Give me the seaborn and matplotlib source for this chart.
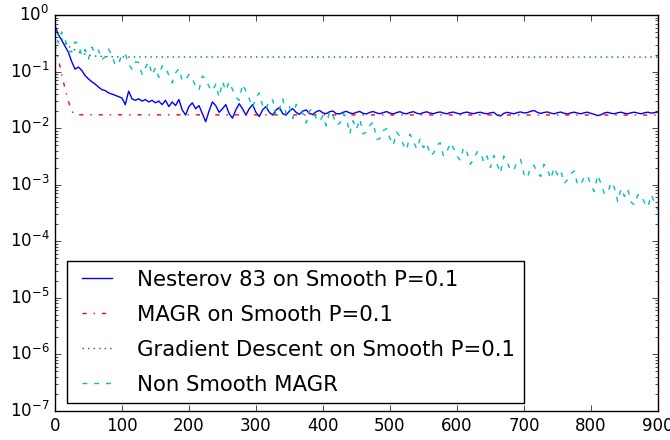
import matplotlib
matplotlib.use("Agg")
import matplotlib.pyplot as plt
import seaborn as sns

plt.style.use("classic")
plt.rcParams["font.family"] = ["DejaVu Sans"]

x5 = list(range(0, 901, 5))

nesterov = [
    0.65, 0.45, 0.36, 0.28, 0.22, 0.15, 0.11, 0.12, 0.105, 0.085,
    0.074, 0.066, 0.06, 0.053, 0.048, 0.046, 0.042, 0.040, 0.038, 0.036,
    0.034, 0.026, 0.045, 0.033, 0.031, 0.033, 0.030, 0.032, 0.029, 0.031,
    0.028, 0.030, 0.026, 0.031, 0.024, 0.029, 0.025, 0.032, 0.021, 0.017,
    0.024, 0.028, 0.022, 0.025, 0.018, 0.013, 0.020, 0.029, 0.025, 0.019,
    0.022, 0.026, 0.018, 0.015, 0.021, 0.027, 0.022, 0.017, 0.022, 0.026,
    0.019, 0.016, 0.021, 0.024, 0.019, 0.017, 0.021, 0.023, 0.018, 0.017,
    0.020, 0.022, 0.019, 0.0175, 0.020, 0.021, 0.018, 0.0175, 0.0195, 0.0205,
    0.0185, 0.018, 0.0195, 0.020, 0.018, 0.0178, 0.019, 0.0198, 0.0185, 0.018,
    0.019, 0.0197, 0.0182, 0.0178, 0.019, 0.0196, 0.0185, 0.018, 0.0188, 0.0196,
    0.0184, 0.0178, 0.0188, 0.0195, 0.0183, 0.0179, 0.0189, 0.0195, 0.0183, 0.0178,
    0.0188, 0.0194, 0.0184, 0.018, 0.0188, 0.0193, 0.0184, 0.0179, 0.0188, 0.0192,
    0.0183, 0.0178, 0.0187, 0.0192, 0.0184, 0.018, 0.0187, 0.0191, 0.0183, 0.0179,
    0.0186, 0.019, 0.017, 0.0164, 0.0182, 0.019, 0.0184, 0.0179, 0.0188, 0.0193,
    0.0185, 0.0188, 0.0198, 0.0205, 0.019, 0.0182, 0.0189, 0.0193, 0.0184, 0.0179,
    0.0187, 0.0192, 0.0183, 0.0178, 0.0186, 0.0191, 0.0184, 0.0179, 0.0187, 0.0191,
    0.0182, 0.0175, 0.0166, 0.0172, 0.0185, 0.019, 0.0183, 0.0179, 0.0187, 0.0191,
    0.0183, 0.0179, 0.0187, 0.0191, 0.0184, 0.0179, 0.0187, 0.0191, 0.0184, 0.0188,
    0.0192,
]

nonsmooth = [
    0.58, 0.32, 0.50, 0.38, 0.224, 0.224, 0.335, 0.31, 0.19, 0.245,
    0.166, 0.27, 0.209, 0.24, 0.162, 0.182, 0.25, 0.195, 0.129, 0.138,
    0.20, 0.204, 0.135, 0.11, 0.148, 0.145, 0.089, 0.117, 0.148, 0.087,
    0.118, 0.079, 0.126, 0.123, 0.085, 0.063, 0.095, 0.112, 0.069, 0.071,
    0.089, 0.076, 0.054, 0.047, 0.083, 0.074, 0.054, 0.045, 0.060, 0.035,
    0.066, 0.046, 0.066, 0.048, 0.035, 0.031, 0.060, 0.045, 0.033, 0.023,
    0.035, 0.042, 0.025, 0.021, 0.032, 0.0316, 0.0165, 0.0214, 0.033, 0.0178,
    0.024, 0.0148, 0.0264, 0.0229, 0.0182, 0.0123, 0.0204, 0.0219, 0.0148, 0.0129,
    0.0166, 0.011, 0.020, 0.0166, 0.0115, 0.012, 0.0182, 0.0155, 0.0079, 0.0135,
    0.0095, 0.0145, 0.0079, 0.0085, 0.0112, 0.0129, 0.0063, 0.0065, 0.0091, 0.0098,
    0.0066, 0.0050, 0.0085, 0.0071, 0.0051, 0.0041, 0.0078, 0.0058, 0.0043, 0.0065,
    0.0045, 0.0055, 0.0033, 0.0036, 0.0050, 0.0055, 0.0032, 0.0038, 0.0055, 0.0044,
    0.0032, 0.0027, 0.0046, 0.0037, 0.0023, 0.0028, 0.0038, 0.0038, 0.0025, 0.0032,
    0.0020, 0.0033, 0.0023, 0.0016, 0.0032, 0.0025, 0.0018, 0.0018, 0.0026, 0.0028,
    0.00155, 0.0013, 0.0021, 0.0022, 0.0016, 0.0014, 0.0023, 0.0019, 0.00126, 0.0020,
    0.0015, 0.0018, 0.00105, 0.00123, 0.00158, 0.00174, 0.0010, 0.0010, 0.00138, 0.00145,
    0.00098, 0.00076, 0.00148, 0.00105, 0.00070, 0.00070, 0.0011, 0.00089, 0.00050, 0.00085,
    0.00062, 0.00083, 0.00049, 0.00044, 0.00066, 0.00066, 0.00048, 0.00040, 0.00066, 0.00049,
    0.00036,
]

magr_x = [0, 5, 10, 15, 20, 25, 30, 900]
magr = [0.30, 0.17, 0.09, 0.05, 0.03, 0.02, 0.0172, 0.017]

gd_x = [0, 5, 10, 15, 20, 30, 40, 50, 60, 80, 100, 900]
gd = [0.55, 0.45, 0.38, 0.32, 0.28, 0.24, 0.21, 0.195, 0.188, 0.183, 0.181, 0.18]

labels = [
    "Nesterov 83 on Smooth P=0.1",
    "MAGR on Smooth P=0.1",
    "Gradient Descent on Smooth P=0.1",
    "Non Smooth MAGR",
]

fig = plt.figure(figsize=(6.7, 4.4), dpi=100)
ax = fig.add_axes([0.082, 0.066, 0.9, 0.9])

sns.lineplot(x=x5, y=nesterov, color="b", linestyle="-", label=labels[0], ax=ax)
sns.lineplot(x=magr_x, y=magr, color="r", linestyle="-.", label=labels[1], ax=ax)
sns.lineplot(x=gd_x, y=gd, color="g", linestyle=":", label=labels[2], ax=ax)
sns.lineplot(x=x5, y=nonsmooth, color="c", linestyle=(0, (3.5, 5)), label=labels[3], ax=ax)

ax.set_yscale("log")
ax.set_xlim(0, 900)
ax.set_ylim(1e-7, 1)
ax.set_xticks(range(0, 901, 100))
ax.legend(loc="lower left", bbox_to_anchor=(0.02, 0.02), borderaxespad=0,
          fontsize=15.3, labelspacing=0.7, handlelength=2.0, handletextpad=0.9)

fig.savefig("out.png", dpi=100)
